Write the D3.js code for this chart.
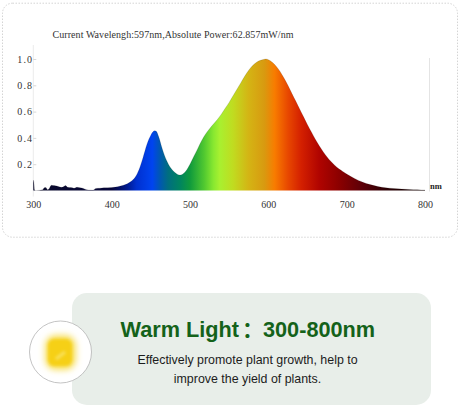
<!DOCTYPE html>
<html>
<head>
<meta charset="utf-8">
<script src="https://cdn.jsdelivr.net/npm/d3@7/dist/d3.min.js"></script>
<style>
html,body{margin:0;padding:0;background:#fff}
svg{display:block}
</style>
</head>
<body>
<svg id="chart" width="461" height="408"></svg>
<script>
// Relative spectral power of the warm light source
const wavelengths = [300,300.8,301.5,303,312,314,316,318,320,323,325,328,332,336,339,341,344,348,352,356,360,364,368,372,376,380,385,390,400,405,410,415,420,425,430,435,440,445,450,453,455,457,460,465,470,475,480,485,487,490,495,500,505,510,515,520,525,530,535,540,545,550,555,560,565,570,575,580,585,590,595,597,600,605,610,615,620,625,630,635,640,645,650,655,660,665,670,675,680,685,690,695,700,710,720,730,740,750,760,770,780,790,800];
const power = [0.08,0.06,0.005,0,0.005,0.02,0.022,0.006,0.012,0.04,0.038,0.036,0.03,0.024,0.03,0.038,0.024,0.022,0.018,0.024,0.02,0.016,0.006,0.004,0.003,0.016,0.018,0.02,0.022,0.026,0.032,0.04,0.052,0.07,0.1,0.16,0.25,0.35,0.42,0.448,0.455,0.45,0.41,0.31,0.23,0.175,0.14,0.12,0.118,0.122,0.15,0.2,0.26,0.32,0.38,0.43,0.47,0.505,0.54,0.58,0.625,0.67,0.72,0.77,0.82,0.87,0.915,0.95,0.975,0.99,0.998,1,0.995,0.975,0.945,0.905,0.855,0.8,0.74,0.68,0.62,0.56,0.5,0.445,0.39,0.34,0.295,0.255,0.22,0.19,0.165,0.145,0.125,0.092,0.065,0.045,0.03,0.021,0.015,0.011,0.008,0.006,0.004];
const stopNm = [300,400,420,432,452,462,472,487,500,518,530,538,555,575,595,608,625,642,665,690,720,750,800];
const stopColors = ["#0a0a2a","#06063a","#001a90","#0030d0","#0044f0","#0058b0","#006e80","#008460","#109a3c","#50c830","#88e830","#a8f030","#c0dc20","#d4b414","#d89a10","#f87c00","#e84800","#d42000","#b00400","#8c0000","#5c0008","#2c0004","#100000"];
const xTicks = [300,400,500,600,700,800];
const yTicks = [0.2,0.4,0.6,0.8,1.0];

const serif = "'Liberation Serif',serif";
const sans = "'Liberation Sans',Arial,sans-serif";
const svg = d3.select("#chart");
const defs = svg.append("defs");

// Outer dashed frame around the plot
svg.append("rect").attr("x",2.5).attr("y",3.2).attr("width",455).attr("height",234).attr("rx",10)
  .attr("fill","#fff").attr("stroke","#d4d4d4").attr("stroke-dasharray","1.5 1.5");

const x = d3.scaleLinear().domain([300,800]).range([33.3,425]);
const y = d3.scaleLinear().domain([0,1]).range([190.5,59]);

// Horizontal gradient following the visible spectrum
const grad = defs.append("linearGradient").attr("id","spectrum")
  .attr("gradientUnits","userSpaceOnUse")
  .attr("x1",x(300)).attr("x2",x(800)).attr("y1",0).attr("y2",0);
grad.selectAll("stop").data(stopNm).join("stop")
  .attr("offset",d=>(d-300)/500)
  .attr("stop-color",(d,i)=>stopColors[i]);

const rows = wavelengths.map((w,i)=>({w,p:power[i]}));
const area = d3.area().x(d=>x(d.w)).y0(y(0)).y1(d=>y(d.p)).curve(d3.curveMonotoneX);
const line = d3.line().x(d=>x(d.w)).y(d=>y(d.p)).curve(d3.curveMonotoneX);

// Faint axes
const axisColor = "#ececec";
svg.append("line").attr("x1",x(300)).attr("x2",x(300)).attr("y1",45).attr("y2",y(0)+6).attr("stroke",axisColor);
svg.append("line").attr("x1",429.5).attr("x2",429.5).attr("y1",58).attr("y2",y(0)+1).attr("stroke","#e4e4e4");

const axisY = d3.axisLeft(y).tickValues(yTicks).tickFormat(d3.format(".1f")).tickSize(-3).tickPadding(0);
const gy = svg.append("g").attr("transform",`translate(${x(300)},0)`).call(axisY);
gy.select(".domain").remove();
gy.selectAll("line").attr("stroke","#d8d8d8");
gy.selectAll("text").attr("font-family",serif).attr("font-size",10).attr("letter-spacing",1.2).attr("fill","#333");

const axisX = d3.axisBottom(x).tickValues(xTicks).tickSize(0).tickPadding(10);
const gx = svg.append("g").attr("transform",`translate(0,${y(0)})`).call(axisX);
gx.select(".domain").remove();
gx.selectAll("text").attr("font-family",serif).attr("font-size",10).attr("fill","#333");

// Spectrum fill with a dark rim along the curve
svg.append("path").datum(rows).attr("d",area).attr("fill","url(#spectrum)");
svg.append("path").datum(rows).attr("d",line).attr("fill","none").attr("stroke","#000").attr("stroke-opacity",0.12).attr("stroke-width",1);

svg.append("text").attr("x",52.5).attr("y",38).attr("font-family",serif).attr("font-size",10).attr("fill","#333")
  .attr("textLength",241).attr("lengthAdjust","spacing")
  .text("Current Wavelengh:597nm,Absolute Power:62.857mW/nm");
svg.append("text").attr("x",430).attr("y",189).attr("font-family",serif).attr("font-size",8.5).attr("font-weight","bold").attr("fill","#222").text("nm");

// Caption card
svg.append("rect").attr("x",72).attr("y",293).attr("width",359).attr("height",112).attr("rx",15).attr("fill","#e8eee9");

// Round lamp emblem: a soft yellow chip with a pale streak across it
defs.append("filter").attr("id","soft").attr("x","-50%").attr("y","-50%").attr("width","200%").attr("height","200%")
  .append("feGaussianBlur").attr("stdDeviation",3.2);
defs.append("filter").attr("id","softer").attr("x","-50%").attr("y","-50%").attr("width","200%").attr("height","200%")
  .append("feGaussianBlur").attr("stdDeviation",1.5);
svg.append("circle").attr("cx",60.5).attr("cy",352).attr("r",31).attr("fill","#fff").attr("stroke","#b4b4b4").attr("stroke-width",0.8);
svg.append("rect").attr("x",45).attr("y",335).attr("width",31).attr("height",35).attr("rx",11).attr("fill","#f8e060").attr("filter","url(#soft)");
svg.append("rect").attr("x",48).attr("y",339).attr("width",24).attr("height",27).attr("rx",6).attr("fill","#f6d018").attr("filter","url(#softer)");
svg.append("line").attr("x1",56).attr("y1",359).attr("x2",65).attr("y2",352).attr("stroke","#f9e15c").attr("stroke-width",3).attr("filter","url(#softer)");

const title = {font:sans,size:21.7,color:"#14621a"};
const addTitle = (txt,px,family) => svg.append("text").attr("x",px).attr("y",337).attr("font-family",family).attr("font-weight","bold").attr("font-size",title.size).attr("fill",title.color).text(txt);
addTitle("Warm Light",120.5,title.font);
addTitle("：",242,"'Noto Sans CJK SC',sans-serif");
addTitle("300-800nm",263,title.font);
svg.append("text").attr("x",247.5).attr("y",364).attr("text-anchor","middle").attr("font-family",sans).attr("font-size",12.4).attr("fill","#1c1c1c").text("Effectively promote plant growth, help to");
svg.append("text").attr("x",247.5).attr("y",383).attr("text-anchor","middle").attr("font-family",sans).attr("font-size",12.4).attr("fill","#1c1c1c").text("improve the yield of plants.");
</script>
</body>
</html>
